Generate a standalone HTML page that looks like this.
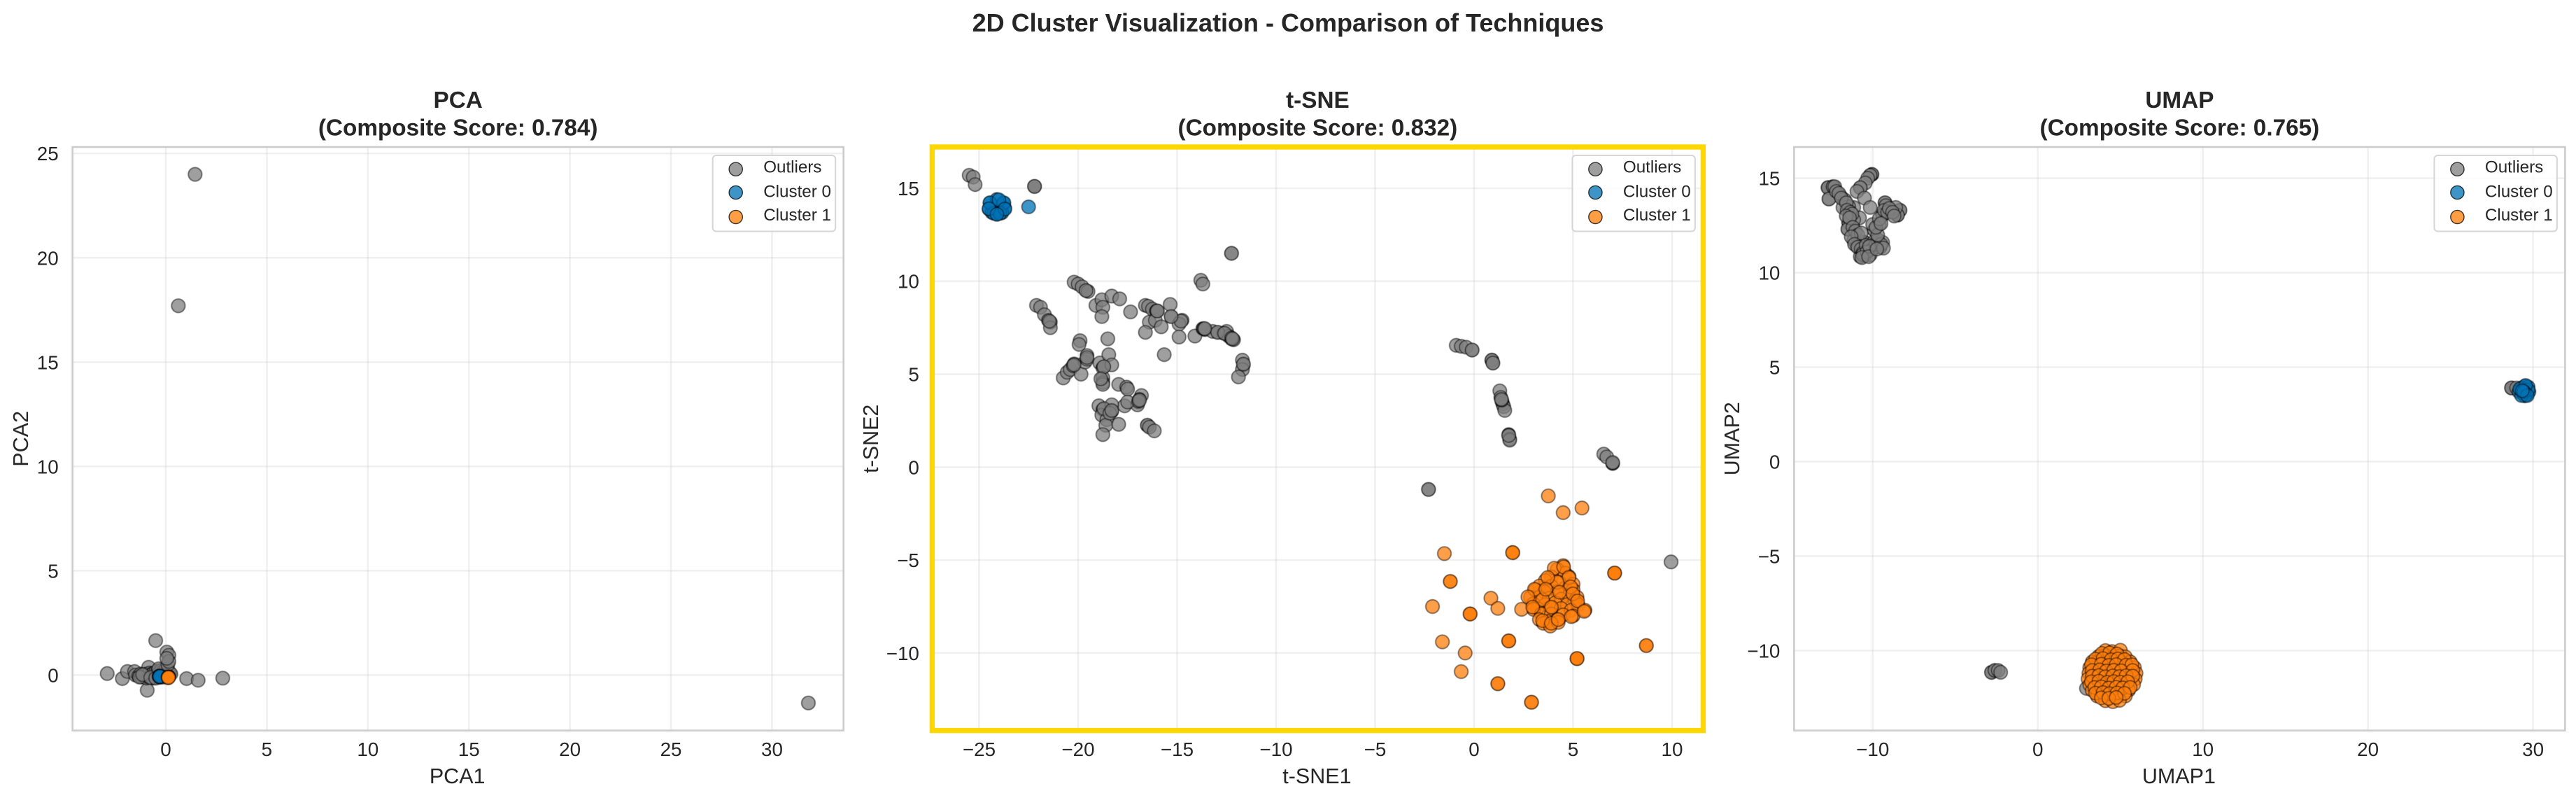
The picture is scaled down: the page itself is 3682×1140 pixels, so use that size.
<!DOCTYPE html>
<html lang="en">
<head>
<meta charset="utf-8">
<title>2D Cluster Visualization - Comparison of Techniques</title>
<style>
html,body{margin:0;padding:0;background:#fff;}
svg{display:block;}
text{font-family:"Liberation Sans",Arial,sans-serif;fill:#262626;filter:url(#softText);}
</style>
</head>
<body>
<svg id="chart" xmlns="http://www.w3.org/2000/svg" width="3682" height="1140" viewBox="0 0 3682 1140">
<defs>
<filter id="soft" filterUnits="userSpaceOnUse" x="0" y="0" width="3682" height="1140"><feGaussianBlur stdDeviation="0.5"/></filter>
<filter id="softText" x="-5%" y="-20%" width="110%" height="140%"><feGaussianBlur stdDeviation="0.3"/></filter>
</defs>
<g id="root">
<rect x="0" y="0" width="3682" height="1140" fill="#ffffff"/>
<text x="1841" y="45" text-anchor="middle" font-size="36" font-weight="700">2D Cluster Visualization - Comparison of Techniques</text>
<text x="654.7" y="154" text-anchor="middle" font-size="33.3" font-weight="700">PCA</text>
<text x="654.7" y="193.5" text-anchor="middle" font-size="33.3" font-weight="700">(Composite Score: 0.784)</text>
<text x="1883.4" y="154" text-anchor="middle" font-size="33.3" font-weight="700">t-SNE</text>
<text x="1883.4" y="193.5" text-anchor="middle" font-size="33.3" font-weight="700">(Composite Score: 0.832)</text>
<text x="3115.4" y="154" text-anchor="middle" font-size="33.3" font-weight="700">UMAP</text>
<text x="3115.4" y="193.5" text-anchor="middle" font-size="33.3" font-weight="700">(Composite Score: 0.765)</text>
</g>
</svg>
<script>
// ---- shared legend / style data ----
const seriesLabels = ["Outliers", "Cluster 0", "Cluster 1"];

// ---- PCA ----
const pcaXTicks = [0, 5, 10, 15, 20, 25, 30];
const pcaYTicks = [0, 5, 10, 15, 20, 25];
const pcaXLimits = [-4.615, 33.54];
const pcaYLimits = [-2.66, 25.31];
const pcaOutliersX = [-1.25,-1.18,-1.1,-1.02,-0.95,-0.88,-0.8,-0.72,-0.65,-0.58,-0.5,-0.43,-0.36,-0.28,-0.2,-0.12,-0.05,0.02,0.08,-1.05,-0.9,-0.7,-0.55,-0.4,-0.25,
  1.45,0.62,-0.5,0.05,0.15,-2.9,-2.15,-1.9,-1.55,-1.1,-0.92,-0.85,1.03,1.6,2.82,31.8,
  -1.5,-1.35,-1.25,-1.2,-1.1,-1.05,-1.0,-0.95,-0.9,-0.85,-0.8,-0.75,-0.7,-0.65,-0.6,-0.55,-0.5,-0.45,-0.4,-0.35,-0.3,-0.25,-0.2,-0.15,-0.1,-0.05,0,0.05,0.1,0.15,0.2,0.25,
  -1.3,-1.15,-0.75,-0.5,-0.35,0.1,0.15,0.05];
const pcaOutliersY = [-0.05,-0.04,-0.06,-0.05,-0.04,-0.06,-0.05,-0.05,-0.04,-0.06,-0.05,-0.04,-0.05,-0.06,-0.05,-0.04,-0.05,-0.06,-0.05,-0.05,-0.05,-0.04,-0.06,-0.05,-0.05,
  24.0,17.7,1.65,1.1,0.95,0.07,-0.17,0.17,0.17,-0.07,-0.73,0.37,-0.17,-0.25,-0.15,-1.34,
  0,-0.05,0.05,-0.1,0,-0.1,0.05,-0.15,0,-0.1,0.1,-0.1,0.05,-0.15,0.1,-0.1,0.15,-0.05,0.2,-0.1,0.15,0,0.25,-0.1,0.2,0.1,0.3,0,0.25,0.15,0.1,0.05,
  -0.1,0.02,-0.12,-0.15,0.3,0.5,0.65,0.8];
const pcaCluster0X = [-0.32,-0.3,-0.28,-0.3,-0.26,-0.34,-0.3,-0.29,-0.31,-0.3,-0.28,-0.3];
const pcaCluster0Y = [-0.05,-0.08,-0.06,-0.1,-0.07,-0.06,-0.04,-0.09,-0.07,-0.06,-0.08,-0.07];
const pcaCluster1X = [0.12,0.13,0.14,0.11,0.13,0.15,0.12,0.13,0.14,0.12,0.13,0.13];
const pcaCluster1Y = [-0.1,-0.12,-0.09,-0.1,-0.11,-0.08,-0.13,-0.1,-0.11,-0.09,-0.1,-0.12];

// ---- t-SNE ----
const tsneXTicks = [-25, -20, -15, -10, -5, 0, 5, 10];
const tsneYTicks = [-10, -5, 0, 5, 10, 15];
const tsneXLimits = [-27.37, 11.57];
const tsneYLimits = [-14.17, 17.22];
const tsneOutliersX = [-25.5,-25.3,-25.2,-22.2,-22.2,-22.2,
  -22.1,-21.9,-21.7,-21.5,-21.4,-21.4,
  -20.2,-20.0,-19.8,-19.6,-19.5,
  -19.1,-18.8,-18.75,-18.8,-18.3,-17.9,-17.35,-18.5,
  -16.6,-16.45,-16.25,-16.05,-16.0,-15.35,-15.3,-14.75,-14.9,-16.4,-16.1,-16.6,-15.8,-14.9,-15.65,
  -13.8,-13.7,-12.25,-12.25,
  -14.1,-13.7,-13.6,-13.2,-12.95,-12.65,-12.5,-12.4,-12.25,-12.15,
  -11.7,-11.65,-11.7,-11.9,
  -20.75,-20.55,-20.4,-20.2,-20.25,-19.85,-19.9,-19.95,-19.55,-19.65,-19.55,
  -18.9,-18.75,-18.7,-18.45,-18.3,-18.75,-18.75,-18.75,
  -17.95,-17.55,-17.5,-16.8,-16.95,-16.9,-17.0,-17.65,-17.5,
  -18.95,-18.75,-18.8,-18.3,-18.3,-18.55,-18.6,-18.75,-17.95,-18.7,-18.4,
  -16.5,-16.5,-16.4,-16.15,
  -0.9,-0.65,-0.4,-0.1,
  0.9,0.9,0.9,0.95,0.95,
  1.3,1.35,1.4,1.45,1.5,1.55,
  1.75,1.75,1.8,1.8,
  6.55,6.7,7.0,7.0,
  -2.3,-2.3,9.95,
  -21.45,-16.0,-16.0,-13.65,-13.6,-12.95,-12.6,-12.25,-12.2,-11.65,-20.2,-18.7,-16.95,-16.9,-18.3,-19.6,-14.8,-15.3,1.4,1.38,1.75,-0.1,7.0,-19.55,-18.85];
const tsneOutliersY = [15.7,15.6,15.2,15.1,15.1,15.1,
  8.7,8.6,8.2,7.9,7.8,7.5,
  9.95,9.85,9.7,9.5,9.45,
  8.7,9.0,8.6,8.1,9.2,9.05,8.35,6.9,
  8.7,8.65,8.5,8.4,8.4,8.75,8.1,7.9,7.7,7.8,7.9,7.25,7.55,7.0,6.05,
  10.05,9.85,11.5,11.5,
  7.05,7.45,7.4,7.3,7.25,7.2,7.3,7.05,6.9,6.85,
  5.75,5.5,5.25,4.85,
  4.8,5.1,5.25,5.55,5.45,5.0,6.8,6.6,6.0,5.65,5.8,
  5.6,5.35,5.4,6.05,5.5,4.8,4.55,4.45,
  4.45,4.3,4.2,3.85,3.5,3.65,3.35,3.3,3.5,
  3.3,3.1,2.8,3.35,3.0,2.55,2.25,1.75,2.3,3.15,2.9,
  2.25,2.25,2.15,1.95,
  6.55,6.5,6.45,6.3,
  5.75,5.75,5.75,5.6,5.6,
  4.1,3.75,3.55,3.4,3.25,3.05,
  1.75,1.7,1.5,1.45,
  0.7,0.55,0.2,0.2,
  -1.2,-1.2,-5.1,
  7.85,8.4,8.4,7.45,7.45,7.25,7.2,6.95,6.9,5.55,5.5,5.4,3.55,3.6,3.05,9.5,7.85,8.1,3.6,3.65,1.7,6.3,0.25,5.9,4.75];
const tsneCluster0X = [-22.5,-24.45,-23.75,-24.1,-24.5,-23.7,-24.35,-23.85,-24.1,-24.45,-23.75,-24.0,-24.25,-23.95,-24.5,-23.7,-24.1];
const tsneCluster0Y = [14.0,14.22,14.2,14.4,13.88,13.92,13.7,13.68,13.6,14.22,14.22,14.38,13.65,13.65,13.9,13.88,13.6];
const tsneCluster1X = [3.75,4.5,5.45,-1.5,1.95,1.95,1.95,-1.2,-1.2,0.85,1.2,-2.1,2.4,-0.2,-0.2,-0.2,1.75,1.75,1.75,-1.6,-0.45,-0.65,1.2,1.2,2.9,2.9,5.2,5.2,5.2,5.2,7.1,7.1,7.1,7.1,8.7,8.7,
  4.5,4.2,4.6,3.9,4.8,3.6,4.3,5.0,3.3,3.9,4.6,5.0,3.1,3.55,4.2,4.8,5.2,2.85,3.3,3.8,4.4,5.1,3.0,3.6,4.1,4.7,5.25,3.2,3.85,4.4,4.9,5.6,3.0,3.4,3.9,4.5,5.0,3.3,3.7,4.2,3.5,3.85,4.25,
  4.05,4.52,4.79,4.2,3.72,4.88,4.32,4.99,5.23,3.46,3.05,3.62,2.72,2.96,3.46,3.9,4.25,4.91,5.56,3.91];
const tsneCluster1Y = [-1.55,-2.45,-2.2,-4.65,-4.6,-4.6,-4.6,-6.15,-6.15,-7.05,-7.6,-7.5,-7.65,-7.9,-7.9,-7.9,-9.35,-9.35,-9.35,-9.4,-10.0,-11.0,-11.65,-11.65,-12.65,-12.65,-10.3,-10.3,-10.3,-10.3,-5.7,-5.7,-5.7,-5.7,-9.6,-9.6,
  -5.3,-5.5,-5.7,-5.9,-5.9,-6.1,-6.2,-6.3,-6.4,-6.4,-6.5,-6.6,-6.6,-6.7,-6.7,-6.9,-7.0,-7.0,-7.0,-7.05,-7.1,-7.2,-7.35,-7.4,-7.3,-7.4,-7.4,-7.6,-7.55,-7.6,-7.7,-7.7,-7.65,-7.9,-7.9,-7.95,-8.0,-8.2,-8.3,-8.2,-8.4,-8.55,-8.35,
  -5.44,-5.37,-5.94,-6.19,-5.94,-6.44,-6.73,-6.82,-7.2,-7.13,-6.57,-6.57,-6.98,-7.53,-8.26,-8.4,-8.2,-8.04,-7.76,-7.53];

// ---- UMAP ----
const umapXTicks = [-10, 0, 10, 20, 30];
const umapYTicks = [-10, -5, 0, 5, 10, 15];
const umapXLimits = [-14.76, 31.94];
const umapYLimits = [-14.23, 16.65];
const umapOutliersX = [-12.7,-12.7,-12.7,-12.7,-12.4,-12.4,-12.4,-12.3,-12.65,-12.65,
  -11.95,-11.7,-11.8,-11.15,-11.45,-10.8,-11.45,-11.45,-11.45,-11.5,-11.5,-11.15,
  -10.05,-10.05,-10.05,-10.15,-10.15,-10.3,-10.45,-10.75,-10.75,-10.95,-10.5,-10.15,
  -9.25,-9.25,-9.2,-9.4,-9.4,-9.6,-9.9,-9.9,-10.0,
  -8.35,-8.35,-8.5,-8.5,-8.5,-8.6,
  -10.5,-10.5,-10.5,-9.95,-9.55,-9.55,-9.55,-9.4,-10.9,-11.15,-10.95,-10.5,-10.5,-10.5,-10.75,-10.15,-10.3,
  -2.8,-2.8,-2.6,-2.6,-2.4,-2.25,
  28.7,28.7,28.7,29.0,
  2.95,
  -12.2,-12.05,-11.9,-11.6,-11.55,-11.35,-11.25,-11.6,-11.4,-11.2,-11.05,-10.9,-10.7,-11.3,-11.1,-10.9,-10.7,-10.6,-10.4,-10.2,-10.0,-9.8,-9.7,-9.5,-9.35,-9.7,-9.8,-9.6,-9.5,-9.3,-9.1,-9.0,-8.8,-8.7,-10.6,-10.35,-10.2,-10.65,-10.25,-9.75];
const umapOutliersY = [14.5,14.5,14.5,14.5,14.55,14.55,14.55,14.55,13.9,13.9,
  14.05,13.85,13.45,13.45,13.5,12.9,12.65,12.65,12.65,12.3,12.3,12.8,
  15.2,15.2,15.2,15.15,15.15,15.0,14.75,14.5,14.5,14.3,13.95,13.45,
  13.7,13.7,13.55,13.05,13.05,12.55,12.25,12.25,12.55,
  13.3,13.3,13.05,13.05,13.05,13.45,
  11.6,11.6,11.6,11.6,11.35,11.35,11.35,11.6,11.7,11.7,11.4,10.9,10.9,10.9,10.85,10.95,11.2,
  -11.15,-11.15,-11.05,-11.05,-11.05,-11.15,
  3.9,3.9,3.9,3.9,
  -12.0,
  14.3,14.2,13.95,13.7,13.3,13.2,13.1,13.0,12.9,12.4,12.2,12.0,12.1,11.9,11.5,11.35,11.25,11.05,11.45,11.35,11.25,11.5,11.75,11.5,11.3,12.0,12.4,12.85,12.6,13.3,13.2,13.4,13.2,13.0,10.95,11.1,11.4,10.8,10.85,11.25];
const umapCluster0X = [29.5,29.3,29.7,29.15,29.5,29.75,29.4,29.6,29.5,29.3,29.7,29.2,29.55,29.45,29.65,29.35];
const umapCluster0Y = [4.0,3.9,3.95,3.7,3.8,3.7,3.6,3.55,3.48,3.5,3.8,3.85,4.03,3.7,3.5,3.75];
const umapCluster1X = [4.1,4.5,5.0,
  3.7,4.1,4.6,5.0,5.3,
  3.3,3.7,4.2,4.7,5.1,5.6,
  3.15,3.6,4.0,4.5,4.9,5.4,5.85,
  3.1,3.5,3.95,4.35,4.8,5.2,5.6,5.95,
  3.05,3.5,3.9,4.3,4.75,5.15,5.55,5.9,
  3.15,3.6,4.0,4.45,4.9,5.3,5.8,
  3.3,3.75,4.2,4.6,5.0,5.5,
  3.6,4.0,4.5,4.9,5.3,
  4.1,4.55,4.95,
  3.9,4.35,4.8,
  3.5,3.95,4.45,4.85,5.25,
  3.25,3.85,4.3,4.75,5.35,5.7,
  3.3,3.75,4.15,4.6,5.05,5.75,
  3.3,3.7,4.1,4.55,4.95,5.35,5.75,
  3.25,3.7,4.2,4.6,5.0,5.45,
  3.45,3.85,4.3,4.75,5.15,5.6,
  3.5,3.95,4.35,4.8,5.25,
  3.85,4.3,4.75];
const umapCluster1Y = [-10.0,-10.05,-9.98,
  -10.3,-10.25,-10.35,-10.28,-10.33,
  -10.6,-10.56,-10.65,-10.58,-10.62,-10.6,
  -10.9,-10.86,-10.95,-10.88,-10.93,-10.87,-10.9,
  -11.2,-11.16,-11.25,-11.18,-11.22,-11.17,-11.24,-11.2,
  -11.5,-11.46,-11.55,-11.48,-11.53,-11.47,-11.54,-11.5,
  -11.8,-11.76,-11.85,-11.78,-11.83,-11.77,-11.8,
  -12.1,-12.05,-12.15,-12.08,-12.13,-12.1,
  -12.4,-12.36,-12.44,-12.38,-12.4,
  -12.65,-12.7,-12.63,
  -10.15,-10.12,-10.18,
  -10.45,-10.42,-10.48,-10.44,-10.47,
  -10.75,-10.72,-10.78,-10.74,-10.77,-10.75,
  -11.05,-11.02,-11.08,-11.04,-11.07,-11.05,
  -11.35,-11.32,-11.38,-11.34,-11.37,-11.33,-11.35,
  -11.65,-11.62,-11.68,-11.64,-11.67,-11.65,
  -11.95,-11.92,-11.98,-11.94,-11.97,-11.95,
  -12.25,-12.22,-12.28,-12.24,-12.26,
  -12.5,-12.53,-12.48];

// ---- rendering ----
const NS = "http://www.w3.org/2000/svg";
const root = document.getElementById("root");
const PLOT_W = 1102, PLOT_TOP = 210, PLOT_BOTTOM = 1043.6;
const MARK_R = 9.6, MARK_ALPHA = 0.76, MARK_EDGE = 1.4;
const seriesColors = ["#808080", "#0072b5", "#ff7f0a"];

function make(tag, attrs, parent, txt) {
  const el = document.createElementNS(NS, tag);
  for (const k in attrs) el.setAttribute(k, attrs[k]);
  if (txt !== undefined) el.textContent = txt;
  parent.appendChild(el);
  return el;
}
function fmt(v) { return v < 0 ? "\u2212" + Math.abs(v) : String(v); }

function drawPanel(p) {
  const L = p.left, R = p.left + PLOT_W, cx = p.left + PLOT_W / 2, cy = (PLOT_TOP + PLOT_BOTTOM) / 2;
  const xs = v => L + (v - p.xLim[0]) / (p.xLim[1] - p.xLim[0]) * PLOT_W;
  const ys = v => PLOT_BOTTOM - (v - p.yLim[0]) / (p.yLim[1] - p.yLim[0]) * (PLOT_BOTTOM - PLOT_TOP);

  const g = make("g", {}, root);
  
  

  const grid = make("g", {stroke: "#cccccc", "stroke-opacity": 0.3, "stroke-width": 2.6}, g);
  
  
  p.xTicks.forEach(t => {
    const gl = make("line", {x1: xs(t), x2: xs(t), y1: PLOT_TOP, y2: PLOT_BOTTOM}, grid);
    
    
    const lb = make("text", {x: xs(t), y: 1080, "text-anchor": "middle", "font-size": 27.8}, g, fmt(t));
    
    
  });
  p.yTicks.forEach(t => {
    const gl = make("line", {x1: L, x2: R, y1: ys(t), y2: ys(t)}, grid);
    
    
    const lb = make("text", {x: L - p.tickGap, y: ys(t) + 10, "text-anchor": "end", "font-size": 27.8}, g, fmt(t));
    
    
  });

  p.series.forEach((s, si) => {
    const sg = make("g", {fill: seriesColors[si], stroke: "#000000", "fill-opacity": MARK_ALPHA, "stroke-opacity": MARK_ALPHA, "stroke-width": MARK_EDGE, filter: "url(#soft)"}, g);
    
    
    s[0].forEach((vx, i) => {
      const c = make("circle", {cx: xs(vx), cy: ys(s[1][i]), r: MARK_R}, sg);
      
      
    });
  });

  const spine = make("rect", {x: L, y: PLOT_TOP, width: PLOT_W, height: PLOT_BOTTOM - PLOT_TOP, fill: "none", stroke: p.spineColor, "stroke-width": p.spineWidth}, g);
  
  

  const xl = make("text", {x: cx - 1, y: 1119, "text-anchor": "middle", "font-size": 30.5}, g, p.xLabel);
  
  
  const yl = make("text", {x: 0, y: 0, "text-anchor": "middle", "font-size": 30.5, transform: "translate(" + p.yLabelX + " " + cy + ") rotate(-90)"}, g, p.yLabel);
  
  

  const lg = make("g", {}, g);
  
  
  const lx = L + 915;
  const box = make("rect", {x: lx, y: 222, width: 175.5, height: 108.5, rx: 5, fill: "#ffffff", "fill-opacity": 0.8, stroke: "#cccccc", "stroke-opacity": 0.8, "stroke-width": 2}, lg);
  
  
  const markerY = [241.7, 275, 310];
  const textY = [246.7, 281.7, 315];
  seriesLabels.forEach((name, i) => {
    const m = make("circle", {cx: lx + 33, cy: markerY[i], r: MARK_R, fill: seriesColors[i], "fill-opacity": MARK_ALPHA, stroke: "#000000", "stroke-opacity": MARK_ALPHA, "stroke-width": MARK_EDGE}, lg);
    
    
    const t = make("text", {x: lx + 72.5, y: textY[i], "font-size": 24.2}, lg, name);
    
    
  });
}

drawPanel({key: "pca", left: 103.7, tickGap: 20, xLim: pcaXLimits, yLim: pcaYLimits, xTicks: pcaXTicks, yTicks: pcaYTicks,
  xLabel: "PCA1", yLabel: "PCA2", yLabelX: 40, spineColor: "#cccccc", spineWidth: 2.6,
  series: [[pcaOutliersX, pcaOutliersY], [pcaCluster0X, pcaCluster0Y], [pcaCluster1X, pcaCluster1Y]]});
drawPanel({key: "tsne", left: 1332.4, tickGap: 18.5, xLim: tsneXLimits, yLim: tsneYLimits, xTicks: tsneXTicks, yTicks: tsneYTicks,
  xLabel: "t-SNE1", yLabel: "t-SNE2", yLabelX: 1255, spineColor: "#ffd700", spineWidth: 7.4,
  series: [[tsneOutliersX, tsneOutliersY], [tsneCluster0X, tsneCluster0Y], [tsneCluster1X, tsneCluster1Y]]});
drawPanel({key: "umap", left: 2564.4, tickGap: 20, xLim: umapXLimits, yLim: umapYLimits, xTicks: umapXTicks, yTicks: umapYTicks,
  xLabel: "UMAP1", yLabel: "UMAP2", yLabelX: 2486, spineColor: "#cccccc", spineWidth: 2.6,
  series: [[umapOutliersX, umapOutliersY], [umapCluster0X, umapCluster0Y], [umapCluster1X, umapCluster1Y]]});
</script>
</body>
</html>
